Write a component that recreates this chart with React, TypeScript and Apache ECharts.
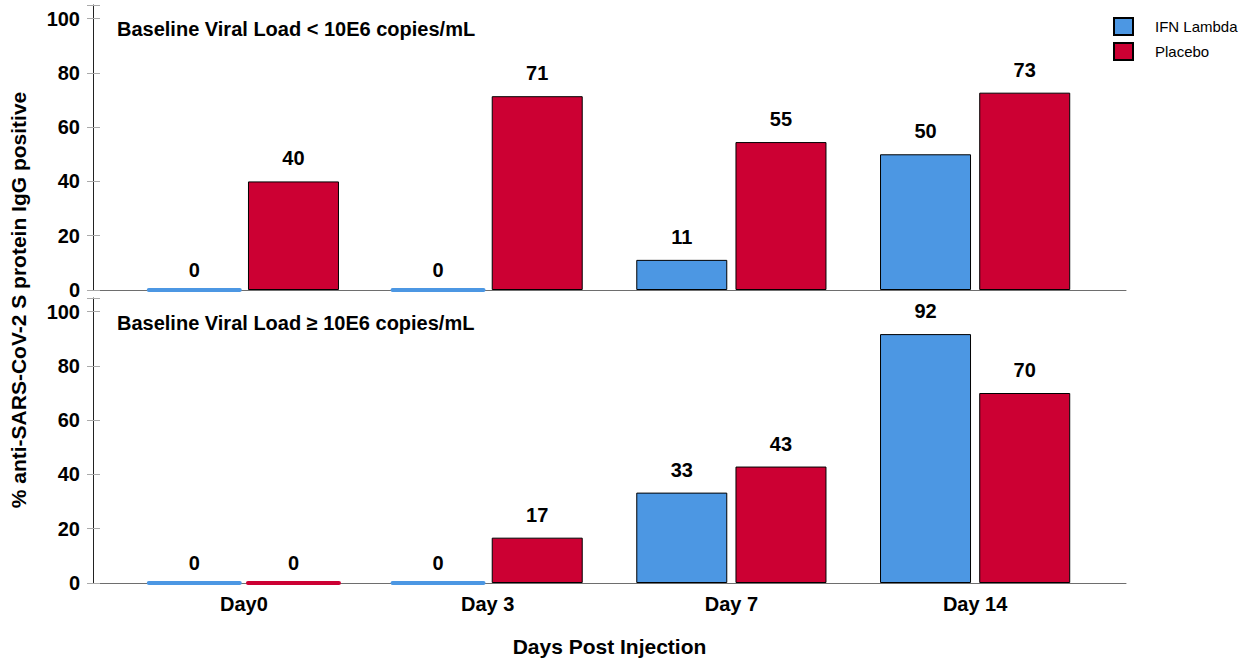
import React, { useEffect, useRef } from "react";
import * as echarts from "echarts";

const categories = ["Day0", "Day 3", "Day 7", "Day 14"];
const seriesNames = ["IFN Lambda", "Placebo"];
const lowIFN = [0, 0, 11.1, 50];
const lowPlacebo = [40, 71.4, 54.5, 72.7];
const highIFN = [0, 0, 33.3, 91.7];
const highPlacebo = [0, 16.7, 42.9, 70];
const yTicks = [0, 20, 40, 60, 80, 100];
const panelTitles = [
  "Baseline Viral Load < 10E6 copies/mL",
  "Baseline Viral Load \u2265 10E6 copies/mL",
];

const BLUE = "#4c97e3";
const RED = "#cc0033";
const FONT = "'Liberation Sans', Arial, sans-serif";

export default function App() {
  const ref = useRef<HTMLDivElement>(null);
  useEffect(() => {
    document.body.style.margin = "0";
    const chart = echarts.init(ref.current!, null, { renderer: "svg" });

    const top1 = 5, h = 285, top2 = 298;
    const wideLeft = 93, wideWidth = 1033;
    const narrowLeft = 122, narrowWidth = 975;

    const grids = [
      { left: wideLeft, width: wideWidth, top: top1, height: h },
      { left: narrowLeft, width: narrowWidth, top: top1, height: h },
      { left: wideLeft, width: wideWidth, top: top2, height: h },
      { left: narrowLeft, width: narrowWidth, top: top2, height: h },
    ];

    const wideX = (gi: number) => ({
      type: "category",
      gridIndex: gi,
      data: [""],
      axisLine: { show: true, lineStyle: { color: "#6e6e6e", width: 1 } },
      axisTick: { show: false },
      axisLabel: { show: false },
      splitLine: { show: false },
    });
    const narrowX = (gi: number, showLabels: boolean) => ({
      type: "category",
      gridIndex: gi,
      data: categories,
      axisLine: { show: false },
      axisTick: { show: false },
      axisLabel: {
        show: showLabels,
        fontFamily: FONT,
        fontSize: 20,
        fontWeight: "bold",
        color: "#000",
        margin: 11,
      },
      ...(showLabels
        ? {
            name: "Days Post Injection",
            nameLocation: "middle",
            nameGap: 53,
            nameTextStyle: { fontFamily: FONT, fontSize: 21, fontWeight: "bold", color: "#000" },
          }
        : {}),
    });
    const yMain = (gi: number) => ({
      type: "value",
      gridIndex: gi,
      position: "left",
      min: 0,
      max: 105,
      interval: 20,
      axisLine: { show: true, lineStyle: { color: "#222", width: 1 } },
      axisTick: { show: true, length: 6, lineStyle: { color: "#aaa" } },
      axisLabel: {
        fontFamily: FONT,
        fontSize: 20,
        fontWeight: "bold",
        color: "#000",
        margin: 13,
        formatter: (v: number) => (yTicks.includes(v) ? String(v) : ""),
      },
      splitLine: { show: false },
    });
    const yInner = (gi: number) => ({
      type: "value",
      gridIndex: gi,
      position: "left",
      min: 0,
      max: 105,
      interval: 20,
      axisLine: { show: false },
      axisTick: { show: true, inside: true, length: 7, lineStyle: { color: "#aaa" } },
      axisLabel: { show: false },
      splitLine: { show: false },
    });
    const yHidden = (gi: number) => ({
      type: "value",
      gridIndex: gi,
      min: 0,
      max: 105,
      interval: 20,
      show: false,
    });

    const mkData = (vals: number[], color: string) =>
      vals.map((v) =>
        v === 0
          ? {
              value: v,
              itemStyle: { borderWidth: 4, borderColor: color, borderCap: "round", borderJoin: "round" },
              label: { distance: 8 },
            }
          : { value: v }
      );

    const mkSeries = (name: string, vals: number[], color: string, xi: number, yi: number) => ({
      type: "bar",
      name,
      xAxisIndex: xi,
      yAxisIndex: yi,
      data: mkData(vals, color),
      clip: false,
      barWidth: 91,
      barGap: "9%",
      itemStyle: { color, borderColor: "#000", borderWidth: 1 },
      label: {
        show: true,
        position: "top",
        distance: 13,
        fontFamily: FONT,
        fontSize: 20,
        fontWeight: "bold",
        color: "#000",
        formatter: (p: any) => String(Math.round(p.value)),
      },
    });

    const titleStyle = { fontFamily: FONT, fontSize: 20, fontWeight: "bold", color: "#000" };

    chart.setOption({
      animation: false,
      backgroundColor: "#fff",
      grid: grids,
      xAxis: [wideX(0), narrowX(1, false), wideX(2), narrowX(3, true)],
      yAxis: [yMain(0), yHidden(1), yMain(2), yHidden(3), yInner(0), yInner(2)],
      title: [
        { text: panelTitles[0], left: 117, top: 19, padding: 0, textStyle: titleStyle },
        { text: panelTitles[1], left: 117, top: 313, padding: 0, textStyle: titleStyle },
      ],
      legend: {
        orient: "vertical",
        left: 1113,
        top: 17,
        padding: 0,
        icon: "rect",
        itemWidth: 19,
        itemHeight: 17,
        itemGap: 6,
        data: seriesNames,
        textStyle: { fontFamily: FONT, fontSize: 15, color: "#000", padding: [0, 0, 0, 17] },
      },
      graphic: [
        {
          type: "text",
          x: 18,
          y: 300,
          rotation: Math.PI / 2,
          style: {
            text: "% anti-SARS-CoV-2 S protein IgG positive",
            font: `bold 21px ${FONT}`,
            fill: "#000",
            align: "center",
            verticalAlign: "middle",
          },
        },
      ],
      series: [
        mkSeries(seriesNames[0], lowIFN, BLUE, 1, 1),
        mkSeries(seriesNames[1], lowPlacebo, RED, 1, 1),
        mkSeries(seriesNames[0], highIFN, BLUE, 3, 3),
        mkSeries(seriesNames[1], highPlacebo, RED, 3, 3),
      ],
    });
    return () => chart.dispose();
  }, []);
  return <div ref={ref} style={{ width: 1256, height: 665 }} />;
}
